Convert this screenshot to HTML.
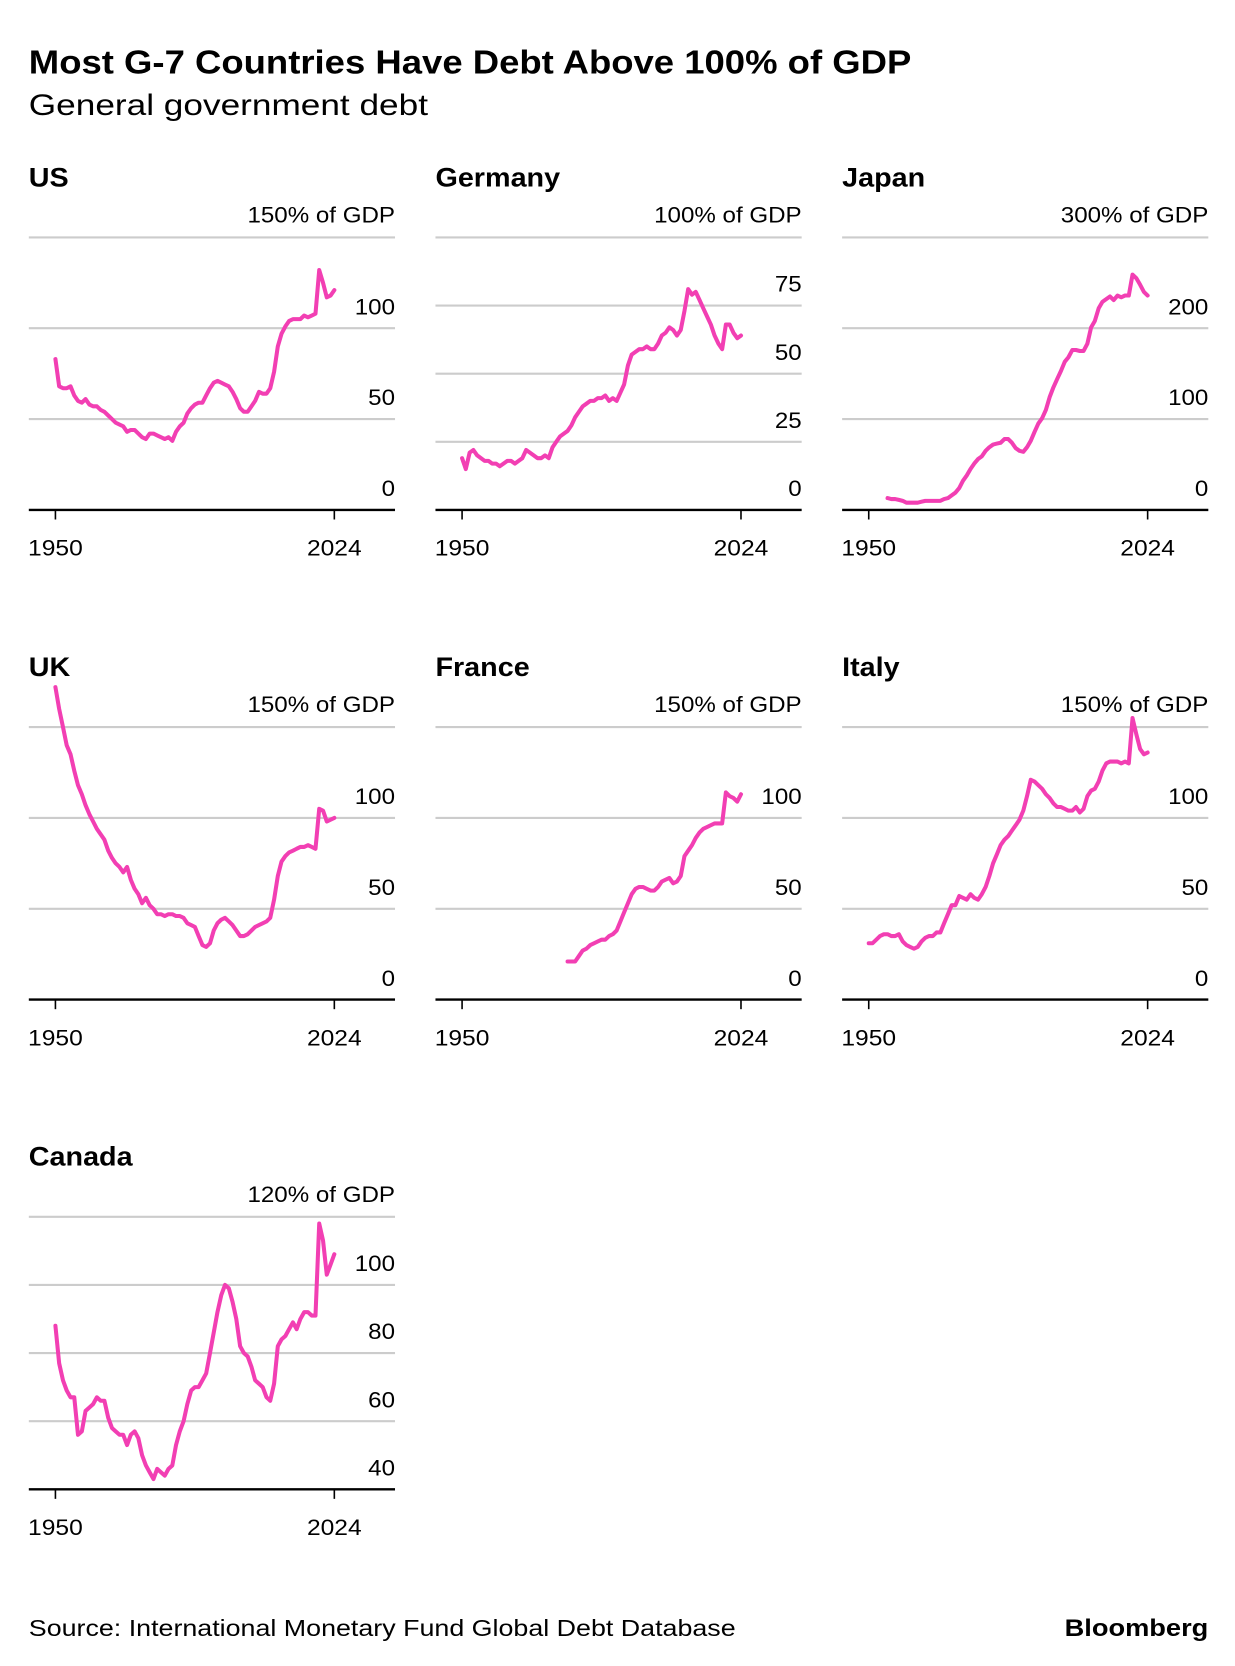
<!DOCTYPE html>
<html><head><meta charset="utf-8">
<style>
html,body{margin:0;padding:0;background:#fff;}
svg{display:block;font-family:"Liberation Sans",Arial,sans-serif;}
</style></head>
<body>
<svg id="chart" width="1235" height="1666" viewBox="0 0 1160 1565" xmlns="http://www.w3.org/2000/svg">
<rect width="1160" height="1565" fill="#fff"/>
<text x="27" y="69" font-size="31" font-weight="bold" fill="#000" textLength="829" lengthAdjust="spacingAndGlyphs">Most G-7 Countries Have Debt Above 100% of GDP</text>
<text x="27" y="108" font-size="28" fill="#000" textLength="375" lengthAdjust="spacingAndGlyphs">General government debt</text>
<text x="27" y="1537" font-size="22" fill="#000" textLength="664" lengthAdjust="spacingAndGlyphs">Source: International Monetary Fund Global Debt Database</text>
<text x="1000" y="1537" font-size="23" font-weight="bold" fill="#000" textLength="135" lengthAdjust="spacingAndGlyphs">Bloomberg</text>
<g id="panels"></g>
</svg>
<script>
const countries = ["US","Germany","Japan","UK","France","Italy","Canada"];
const startYears = [1950,1950,1955,1950,1978,1950,1950];
const usValues = [83,68,67,67,68,63,60,59,61,58,57,57,55,54,52,50,48,47,46,43,44,44,42,40,39,42,42,41,40,39,40,38,43,46,48,53,56,58,59,59,63,67,70,71,70,69,68,65,61,56,54,54,57,60,65,64,64,67,76,90,97,101,104,105,105,105,107,106,107,108,132,125,117,118,121];
const germanyValues = [19,15,21,22,20,19,18,18,17,17,16,17,18,18,17,18,19,22,21,20,19,19,20,19,23,25,27,28,29,31,34,36,38,39,40,40,41,41,42,40,41,40,43,46,53,57,58,59,59,60,59,59,61,64,65,67,66,64,66,73,81,79,80,77,74,71,68,64,61,59,68,68,65,63,64];
const japanValues = [13,12,12,11,10,8,8,8,8,9,10,10,10,10,10,12,13,16,19,24,32,38,45,51,56,59,65,69,72,73,74,78,78,74,68,65,64,69,76,86,95,101,110,124,135,144,153,163,168,176,176,175,175,183,201,208,222,229,232,235,231,236,234,236,236,259,255,248,240,236];
const ukValues = [172,160,150,140,135,126,118,113,107,102,98,94,91,88,82,78,75,73,70,73,66,61,58,53,56,52,50,47,47,46,47,47,46,46,45,42,41,40,35,30,29,31,38,42,44,45,43,41,38,35,35,36,38,40,41,42,43,45,55,68,76,79,81,82,83,84,84,85,84,83,105,104,98,99,100];
const franceValues = [21,21,21,24,27,28,30,31,32,33,33,35,36,38,43,48,53,58,61,62,62,61,60,60,62,65,66,67,64,65,68,79,82,85,89,92,94,95,96,97,97,97,114,112,111,109,113];
const italyValues = [31,31,33,35,36,36,35,35,36,32,30,29,28,29,32,34,35,35,37,37,42,47,52,52,57,56,55,58,56,55,58,62,68,75,80,85,88,90,93,96,99,104,112,121,120,118,116,113,111,108,106,106,105,104,104,106,103,105,112,115,116,120,126,130,131,131,131,130,131,130,155,146,138,135,136];
const canadaValues = [88,77,72,69,67,67,56,57,63,64,65,67,66,66,61,58,57,56,56,53,56,57,55,50,47,45,43,46,45,44,46,47,53,57,60,65,69,70,70,72,74,80,86,92,97,100,99,95,90,82,80,79,76,72,71,70,67,66,71,82,84,85,87,89,87,90,92,92,91,91,118,113,103,106,109];
const yMins = [0,0,0,0,0,0,40];
const yMaxs = [150,100,300,150,150,150,120];
const tickLabels = [[0,50,100],[0,25,50,75],[0,100,200],[0,50,100],[0,50,100],[0,50,100],[40,60,80,100]];
const yearLabels = [1950,2024];

const allValues = [usValues,germanyValues,japanValues,ukValues,franceValues,italyValues,canadaValues];
const NS = "http://www.w3.org/2000/svg";
const root = document.getElementById("panels");
function mk(tag, attrs, parent){
  const e = document.createElementNS(NS, tag);
  for (const k in attrs) e.setAttribute(k, attrs[k]);
  parent.appendChild(e);
  return e;
}
function widen(el, f){
  try {
    const w = el.getComputedTextLength();
    if (w > 0) { el.setAttribute("textLength", (w * f).toFixed(1)); el.setAttribute("lengthAdjust", "spacingAndGlyphs"); }
  } catch(e) {}
}
const colLeft = [27,409,791];
const rowTop = [223,683,1143];
const W = 344, H = 256;
countries.forEach((name, i) => {
  const left = colLeft[i % 3], top = rowTop[Math.floor(i / 3)];
  const bottom = top + H;
  const slug = name.toLowerCase();
  const g = mk("g", {}, root);
  
  
  const xScale = yr => left + 25 + (yr - 1950) * (262 / 74);
  const yScale = v => bottom - (v - yMins[i]) / (yMaxs[i] - yMins[i]) * H;
  const t = mk("text", {x:left, y:top-48, "font-size":25, "font-weight":"bold", fill:"#000"}, g);
  t.textContent = name;
  
  
  widen(t, 1.08);
  const u = mk("text", {x:left+W, y:top-14, "font-size":21, "text-anchor":"end", fill:"#000"}, g);
  u.textContent = yMaxs[i] + "% of GDP";
  
  
  widen(u, 1.08);
  const gl = mk("line", {x1:left, x2:left+W, y1:top, y2:top, stroke:"#ccc", "stroke-width":2}, g);
  
  
  tickLabels[i].forEach(v => {
    const y = yScale(v);
    if (v !== yMins[i]) {
      const l = mk("line", {x1:left, x2:left+W, y1:y, y2:y, stroke:"#ccc", "stroke-width":2}, g);
      
      
    }
    const tl = mk("text", {x:left+W, y:y-13, "font-size":21, "text-anchor":"end", fill:"#000"}, g);
    tl.textContent = v;
    
    
    widen(tl, 1.08);
  });
  const ax = mk("line", {x1:left, x2:left+W, y1:bottom, y2:bottom, stroke:"#000", "stroke-width":2.2}, g);
  
  
  yearLabels.forEach(yr => {
    const x = xScale(yr);
    const tk = mk("line", {x1:x, x2:x, y1:bottom, y2:bottom+9, stroke:"#000", "stroke-width":1.5}, g);
    
    
    const yl = mk("text", {x:x, y:bottom+43, "font-size":21, "text-anchor":"middle", fill:"#000"}, g);
    yl.textContent = yr;
    
    
    widen(yl, 1.1);
  });
  const pts = allValues[i].map((v, k) => xScale(startYears[i] + k).toFixed(1) + "," + yScale(v).toFixed(1)).join(" ");
  const pl = mk("polyline", {points:pts, fill:"none", stroke:"#f23fb3", "stroke-width":3.8, "stroke-linejoin":"round", "stroke-linecap":"round"}, g);
  
  
});
</script>
</body></html>
